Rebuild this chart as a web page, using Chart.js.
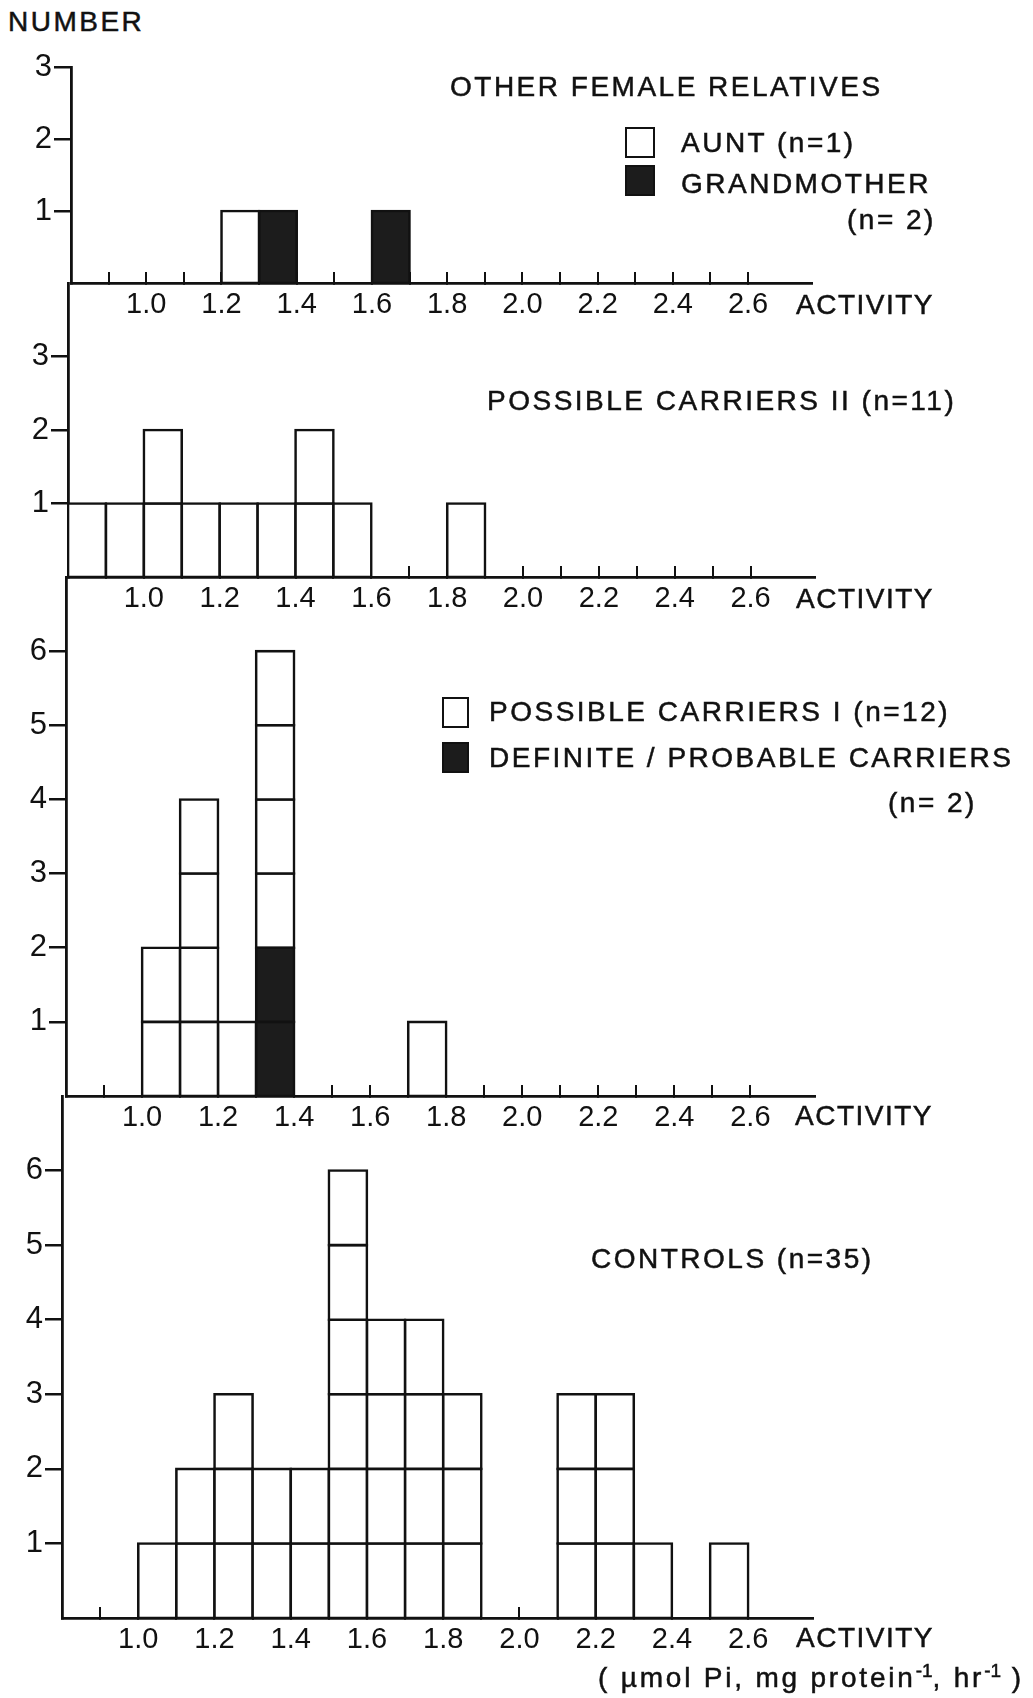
<!DOCTYPE html>
<html>
<head>
<meta charset="utf-8">
<script src="https://cdn.jsdelivr.net/npm/chart.js@4.4.1/dist/chart.umd.min.js"></script>
<style>
  body { margin: 0; background: #fff; }
  #page { position: relative; width: 1033px; height: 1698px; overflow: hidden;
          font-family: "Liberation Sans", Arial, sans-serif; color: #111; }
  #page canvas { position: absolute; left: 0; }
  .t { position: absolute; font-size: 28px; line-height: 28px; letter-spacing: 2.5px; white-space: nowrap;
       -webkit-text-stroke: 0.5px #111; }
  .act { letter-spacing: 1.5px; }
  .units { letter-spacing: 2.8px; }
  .box { position: absolute; box-sizing: border-box; border: 2.6px solid #111; background: #fff; }
  .box.dark { background: #1c1c1c; }
  sup { font-size: 19px; line-height: 0; letter-spacing: 0; }
</style>
</head>
<body>
<div id="page">
  <canvas id="p1" width="1033" height="290" style="top:43px"></canvas>
  <canvas id="p2" width="1033" height="368" style="top:259px"></canvas>
  <canvas id="p3" width="1033" height="593" style="top:553px"></canvas>
  <canvas id="p4" width="1033" height="596" style="top:1072px"></canvas>

  <div class="t" style="left:8px;top:8px">NUMBER</div>

  <div class="t" style="left:450px;top:73px">OTHER FEMALE RELATIVES</div>
  <div class="box" style="left:625px;top:127px;width:30px;height:31px"></div>
  <div class="t" style="left:681px;top:129px">AUNT (n=1)</div>
  <div class="box dark" style="left:625px;top:165px;width:30px;height:31px"></div>
  <div class="t" style="left:681px;top:170px">GRANDMOTHER</div>
  <div class="t" style="left:847px;top:206px">(n= 2)</div>
  <div class="t act" style="left:796px;top:291px">ACTIVITY</div>

  <div class="t" style="left:487px;top:387px">POSSIBLE CARRIERS II (n=11)</div>
  <div class="t act" style="left:796px;top:585px">ACTIVITY</div>

  <div class="box" style="left:442px;top:697px;width:27px;height:31px"></div>
  <div class="t" style="left:489px;top:698px">POSSIBLE CARRIERS I (n=12)</div>
  <div class="box dark" style="left:442px;top:742px;width:27px;height:31px"></div>
  <div class="t" style="left:489px;top:744px">DEFINITE / PROBABLE CARRIERS</div>
  <div class="t" style="left:888px;top:789px">(n= 2)</div>
  <div class="t act" style="left:795px;top:1102px">ACTIVITY</div>

  <div class="t" style="left:591px;top:1245px">CONTROLS (n=35)</div>
  <div class="t act" style="left:796px;top:1624px">ACTIVITY</div>
  <div class="t units" style="left:598px;top:1664px">( µmol Pi, mg protein<sup>-1</sup>, hr<sup>-1</sup> )</div>
</div>

<script>
// histogram bins (0.1 wide), given by their centres
const binCentres = [0.85, 0.95, 1.05, 1.15, 1.25, 1.35, 1.45, 1.55, 1.65, 1.75,
                    1.85, 1.95, 2.05, 2.15, 2.25, 2.35, 2.45, 2.55, 2.65];

// counts per bin
const aunt        = [0, 0, 0, 0, 1, 0, 0, 0, 0, 0, 0, 0, 0, 0, 0, 0, 0, 0, 0];
const grandmother = [0, 0, 0, 0, 0, 1, 0, 0, 1, 0, 0, 0, 0, 0, 0, 0, 0, 0, 0];
const possibleII  = [1, 1, 2, 1, 1, 1, 2, 1, 0, 0, 1, 0, 0, 0, 0, 0, 0, 0, 0];
const possibleI   = [0, 0, 2, 4, 1, 4, 0, 0, 0, 1, 0, 0, 0, 0, 0, 0, 0, 0, 0];
const definite    = [0, 0, 0, 0, 0, 2, 0, 0, 0, 0, 0, 0, 0, 0, 0, 0, 0, 0, 0];
const controls    = [0, 0, 1, 2, 3, 2, 2, 6, 4, 4, 3, 0, 0, 3, 3, 1, 0, 1, 0];

const xTicks = [0.9, 1.0, 1.1, 1.2, 1.3, 1.4, 1.5, 1.6, 1.7, 1.8, 1.9, 2.0, 2.1, 2.2, 2.3, 2.4, 2.5, 2.6];
const xTickLabels = ['', '1.0', '', '1.2', '', '1.4', '', '1.6', '', '1.8', '', '2.0', '', '2.2', '', '2.4', '', '2.6'];
const yTicksSmall = [1, 2, 3];
const yTicksLarge = [1, 2, 3, 4, 5, 6];

Chart.defaults.font.family = '"Liberation Sans", Arial, sans-serif';
Chart.defaults.color = '#111';

// every case is drawn as its own unit box, stacked on top of "below"
function unitBoxes(counts, below) {
  const out = [];
  counts.forEach((n, i) => {
    const base = below ? below[i] : 0;
    for (let k = 0; k < n; k++) out.push({ x: binCentres[i], y: [base + k, base + k + 1] });
  });
  return out;
}

const panels = [
  { id: 'p1', left: 71, right: 812, yMax: 3, yTicks: yTicksSmall,
    series: [{ counts: aunt, dark: false }, { counts: grandmother, dark: true }] },
  { id: 'p2', left: 68, right: 815, yMax: 4, yTicks: yTicksSmall,
    series: [{ counts: possibleII, dark: false }] },
  { id: 'p3', left: 66, right: 815, yMax: 7, yTicks: yTicksLarge,
    series: [{ counts: definite, dark: true }, { counts: possibleI, dark: false, below: definite }] },
  { id: 'p4', left: 62, right: 813, yMax: 7, yTicks: yTicksLarge,
    series: [{ counts: controls, dark: false }] }
];

panels.forEach(p => {
  new Chart(document.getElementById(p.id), {
    type: 'bar',
    data: {
      datasets: p.series.map(s => ({
        data: unitBoxes(s.counts, s.below),
        backgroundColor: s.dark ? '#1c1c1c' : '#ffffff',
        borderColor: '#111',
        borderWidth: 2.6,
        borderSkipped: false,
        inflateAmount: 1.3,
        grouped: false,
        barPercentage: 1,
        categoryPercentage: 1
      }))
    },
    options: {
      responsive: false,
      animation: false,
      layout: { padding: { top: 24, right: 1033 - p.right, bottom: 0, left: 0 } },
      plugins: { legend: { display: false }, tooltip: { enabled: false } },
      scales: {
        x: {
          type: 'linear', min: 0.8, max: 2.77, offset: false,
          afterBuildTicks: s => { s.ticks = xTicks.map(v => ({ value: v })); },
          afterFit: s => { s.height = 50; },
          ticks: { autoSkip: false, maxRotation: 0, minRotation: 0, padding: 16,
                   font: { size: 29 }, callback: (v, i) => xTickLabels[i] },
          grid: { offset: false, drawOnChartArea: false, drawTicks: true, tickLength: -11,
                  lineWidth: 2, color: '#111' },
          border: { display: true, color: '#111', width: 2.8 }
        },
        y: {
          type: 'linear', min: 0, max: p.yMax,
          afterBuildTicks: s => { s.ticks = p.yTicks.map(v => ({ value: v })); },
          afterFit: s => { s.width = p.left; },
          ticks: { padding: 2, font: { size: 31 }, callback: v => String(v) },
          grid: { drawOnChartArea: false, drawTicks: true, tickLength: 17, lineWidth: 2.5, color: '#111' },
          border: { display: true, color: '#111', width: 2.8 }
        }
      }
    }
  });
});
</script>
</body>
</html>
